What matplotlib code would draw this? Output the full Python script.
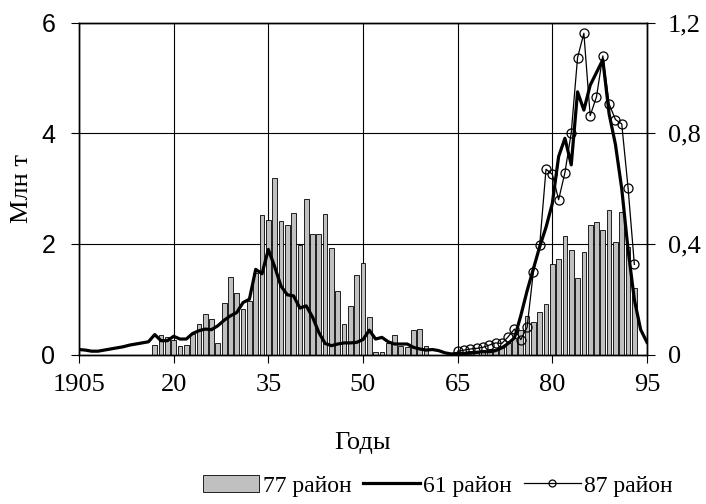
import numpy as np
import matplotlib
matplotlib.use("Agg")
import matplotlib.pyplot as plt
from matplotlib.patches import Patch
from matplotlib.lines import Line2D

plt.rcParams['font.family'] = ['Liberation Serif', 'DejaVu Serif']

# 77 район — столбики (левая ось, млн т)
bar_years = list(range(1917, 1994))
bar_vals = [0.18, 0.35, 0.32, 0.27, 0.16, 0.18, 0.37, 0.56, 0.73, 0.65,
            0.21, 0.94, 1.40, 1.11, 0.82, 0.96, 1.47, 2.53, 2.44, 3.20,
            2.41, 2.35, 2.56, 1.98, 2.82, 2.18, 2.18, 2.55, 1.92, 1.14,
            0.56, 0.88, 1.43, 1.66, 0.67, 0.04, 0.04, 0.21, 0.35, 0.15,
            0.14, 0.44, 0.47, 0.15, 0.0, 0.0, 0.0, 0.0, 0.03, 0.05,
            0.06, 0.06, 0.08, 0.10, 0.10, 0.15, 0.20, 0.30, 0.45, 0.70,
            0.58, 0.76, 0.91, 1.63, 1.73, 2.15, 1.89, 1.38, 1.86, 2.35,
            2.39, 2.26, 2.61, 2.04, 2.58, 1.95, 1.20]

# 61 район — толстая линия (левая ось)
line_years = list(range(1905, 1996))
line_vals = [0.09, 0.08, 0.06, 0.06, 0.08, 0.10, 0.12, 0.14, 0.17, 0.19,
             0.21, 0.23, 0.36, 0.25, 0.25, 0.33, 0.28, 0.28, 0.38, 0.43,
             0.46, 0.45, 0.52, 0.62, 0.70, 0.76, 0.94, 1.00, 1.54, 1.46,
             1.90, 1.59, 1.24, 1.08, 1.06, 0.84, 0.88, 0.68, 0.40, 0.20,
             0.16, 0.19, 0.21, 0.21, 0.22, 0.27, 0.44, 0.28, 0.31, 0.23,
             0.19, 0.19, 0.19, 0.13, 0.10, 0.08, 0.09, 0.07, 0.03, 0.01,
             0.02, 0.02, 0.03, 0.04, 0.05, 0.05, 0.07, 0.12, 0.20, 0.30,
             0.70, 1.15, 1.55, 1.95, 2.30, 2.73, 3.58, 3.91, 3.43, 4.75,
             4.42, 4.87, 5.10, 5.33, 4.35, 3.80, 3.00, 1.90, 0.99, 0.45,
             0.22]

# 87 район — линия с кружками (правая ось, млн т)
circ_years = list(range(1965, 1994))
circ_vals = [0.012, 0.016, 0.020, 0.022, 0.026, 0.034, 0.042, 0.040, 0.064,
             0.092, 0.054, 0.098, 0.300, 0.396, 0.670, 0.652, 0.560, 0.658,
             0.802, 1.074, 1.162, 0.864, 0.932, 1.080, 0.906, 0.850, 0.834,
             0.604, 0.326]

x_ticks = [1905, 1920, 1935, 1950, 1965, 1980, 1995]
x_ticklabels = ['1905', '20', '35', '50', '65', '80', '95']
left_ticks = [0, 2, 4, 6]
right_ticks = [0, 0.4, 0.8, 1.2]
right_ticklabels = ['0', '0,4', '0,8', '1,2']

fig = plt.figure(figsize=(7.06, 5.04), dpi=100)
ax = fig.add_axes([0.1119, 0.2966, 0.8045, 0.6583])
ax2 = ax.twinx()

ax.bar(bar_years, bar_vals, width=0.75, color='#c0c0c0',
       edgecolor='black', linewidth=0.6, zorder=2)
ax.plot(line_years, line_vals, color='black', linewidth=2.3, zorder=3)
ax2.plot(circ_years, circ_vals, color='black', linewidth=0.9,
         marker='o', markersize=6.5, markerfacecolor='none',
         markeredgecolor='black', markeredgewidth=0.9, zorder=4)

ax.set_xlim(1905, 1995)
ax.set_ylim(0, 6)
ax2.set_ylim(0, 1.2)

ax.set_xticks(x_ticks)
ax.set_xticklabels(x_ticklabels, fontsize=19)
ax.set_yticks(left_ticks)
ax.set_yticklabels([str(t) for t in left_ticks], fontsize=18,
                   family='Liberation Sans')
ax2.set_yticks(right_ticks)
ax2.set_yticklabels(right_ticklabels, fontsize=19)

ax.grid(True, color='black', linewidth=0.8, zorder=0)
ax.set_axisbelow(True)
for a in (ax, ax2):
    for s in a.spines.values():
        s.set_linewidth(1.0)
        s.set_color('black')
ax.tick_params(axis='y', direction='out', length=6, width=0.8, pad=11)
ax.tick_params(axis='x', direction='out', length=6, width=0.8, pad=8)
ax2.tick_params(axis='y', direction='out', length=6, width=0.8, pad=9)

ax.set_ylabel('Млн т', fontsize=19)
ax.yaxis.label.set_va('center')
ax.yaxis.set_label_coords(-0.10, 0.5)
ax.set_xlabel('Годы', fontsize=19)
ax.xaxis.label.set_va('center')
ax.xaxis.set_label_coords(0.5, -0.267)

handles = [Patch(facecolor='#c0c0c0', edgecolor='black', linewidth=0.6),
           Line2D([], [], color='black', linewidth=2.3),
           Line2D([], [], color='black', linewidth=0.9, marker='o',
                  markersize=5, markerfacecolor='none', markeredgewidth=0.9)]
fig.legend(handles, ['77 район', '61 район', '87 район'],
           loc='center', bbox_to_anchor=(0.62, 0.036), ncol=3,
           frameon=False, fontsize=17, handlelength=2.4, handletextpad=0.15,
           columnspacing=0.5)

fig.savefig('out.png', dpi=100)
